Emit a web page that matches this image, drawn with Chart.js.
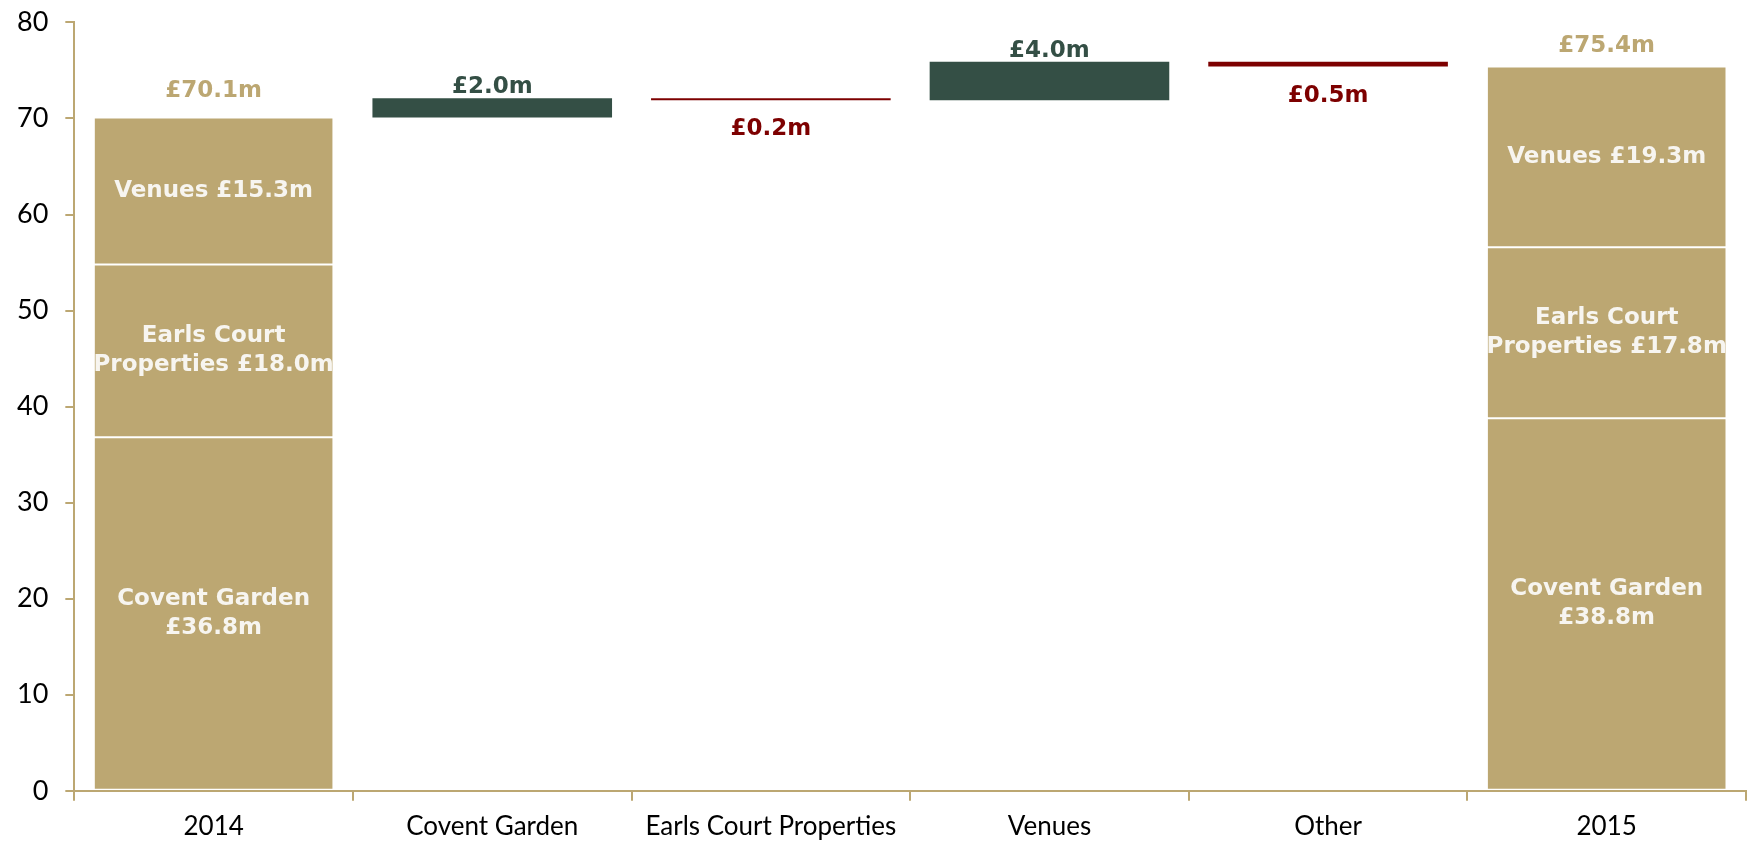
<!DOCTYPE html>
<html>
<head>
<meta charset="utf-8">
<script src="https://cdn.jsdelivr.net/npm/chart.js@4/dist/chart.umd.min.js"></script>
<style>
  html, body { margin: 0; padding: 0; background: #fff; }
  #wrap { width: 1750px; height: 842px; }
</style>
</head>
<body>
<div id="wrap"><canvas id="chartPont"></canvas></div>
<script>
// Données du pont de résultat 2014 -> 2015 (en £m)
const categories = ["2014", "Covent Garden", "Earls Court Properties", "Venues", "Other", "2015"];
const segments2014 = [36.8, 18.0, 15.3];
const segments2015 = [38.8, 17.8, 19.3];
const openingTotal = 70.1;
const movements = [2.0, -0.2, 4.0, -0.5];
const closingTotal = 75.4;
const yTicks = [0, 10, 20, 30, 40, 50, 60, 70, 80];

// Textes des segments, du bas vers le haut
const segmentLines = [
  v => ["Covent Garden", v],
  v => ["Earls Court", "Properties " + v],
  v => ["Venues " + v]
];

const GOLD = "#bca772";
const GREEN = "#344f45";
const RED = "#7d0000";
const fmt = v => "£" + Math.abs(v).toFixed(1) + "m";

// Segments empilés (barres flottantes) pour 2014 et 2015
const segmentDatasets = segments2014.map((v, i) => {
  const data = categories.map(() => null);
  const s14 = segments2014.slice(0, i).reduce((a, b) => a + b, 0);
  const s15 = segments2015.slice(0, i).reduce((a, b) => a + b, 0);
  data[0] = [s14, s14 + v];
  // le haut de la pile 2015 s'arrête au total publié
  const top15 = i === segments2015.length - 1 ? closingTotal : s15 + segments2015[i];
  data[categories.length - 1] = [s15, top15];
  return {
    data: data,
    backgroundColor: GOLD,
    borderColor: "#ffffff",
    borderWidth: 1,
    borderSkipped: false,
    grouped: false
  };
});

// Variations : barres flottantes à partir du total cumulé
let cumul = openingTotal;
const moveData = categories.map(() => null);
movements.forEach((m, i) => {
  moveData[i + 1] = [cumul, cumul + m];
  cumul += m;
});

const moveDataset = {
  data: moveData,
  backgroundColor: categories.map((c, i) => (i > 0 && i <= movements.length && movements[i - 1] < 0) ? RED : GREEN),
  borderWidth: 0,
  grouped: false
};

// Étiquettes dessinées sur les barres
const labelsPlugin = {
  id: "etiquettes",
  afterDatasetsDraw(chart) {
    const ctx = chart.ctx;
    ctx.save();
    ctx.textAlign = "center";
    ctx.textBaseline = "middle";
    ctx.font = "bold 23px 'DejaVu Sans'";

    // segments
    segmentDatasets.forEach((ds, i) => {
      const meta = chart.getDatasetMeta(i);
      [0, categories.length - 1].forEach(idx => {
        const el = meta.data[idx];
        const vals = idx === 0 ? segments2014 : segments2015;
        const lines = segmentLines[i](fmt(vals[i]));
        const cy = (el.y + el.base) / 2;
        const lh = 29;
        ctx.fillStyle = "#f7f5f0";
        lines.forEach((t, k) => {
          ctx.fillText(t, el.x, cy + (k - (lines.length - 1) / 2) * lh);
        });
      });
    });

    // totaux
    const topMeta = chart.getDatasetMeta(segmentDatasets.length - 1);
    ctx.fillStyle = GOLD;
    ctx.fillText(fmt(openingTotal), topMeta.data[0].x, topMeta.data[0].y - 26);
    const last = topMeta.data[categories.length - 1];
    ctx.fillText(fmt(closingTotal), last.x, last.y - 21);

    // variations
    const mMeta = chart.getDatasetMeta(segmentDatasets.length);
    movements.forEach((m, i) => {
      const el = mMeta.data[i + 1];
      const top = Math.min(el.y, el.base);
      const bottom = Math.max(el.y, el.base);
      if (m >= 0) {
        ctx.fillStyle = GREEN;
        ctx.fillText(fmt(m), el.x, top - 11);
      } else {
        ctx.fillStyle = RED;
        ctx.fillText(fmt(m), el.x, bottom + 29);
      }
    });
    ctx.restore();
  }
};

new Chart(document.getElementById("chartPont"), {
  type: "bar",
  data: {
    labels: categories,
    datasets: [...segmentDatasets, moveDataset]
  },
  options: {
    responsive: true,
    maintainAspectRatio: false,
    animation: false,
    categoryPercentage: 1,
    barPercentage: 0.86,
    layout: { padding: { top: 0, left: 0, right: 4, bottom: -10 } },
    plugins: {
      legend: { display: false },
      tooltip: { enabled: false }
    },
    scales: {
      x: {
        grid: { drawOnChartArea: false, color: GOLD, tickLength: 10, lineWidth: 2, offset: true },
        border: { color: GOLD, width: 2 },
        ticks: { color: "#000", font: { family: "Lato", size: 26 }, padding: 10, maxRotation: 0, autoSkip: false }
      },
      y: {
        min: 0,
        max: 80,
        afterBuildTicks: axis => { axis.ticks = yTicks.map(v => ({ value: v })); },
        grid: { drawOnChartArea: false, color: GOLD, tickLength: 9, lineWidth: 2 },
        border: { color: GOLD, width: 2 },
        ticks: { color: "#000", font: { family: "Lato", size: 27, lineHeight: 0.4 }, padding: 17 }
      }
    }
  },
  plugins: [labelsPlugin]
});
</script>
</body>
</html>
